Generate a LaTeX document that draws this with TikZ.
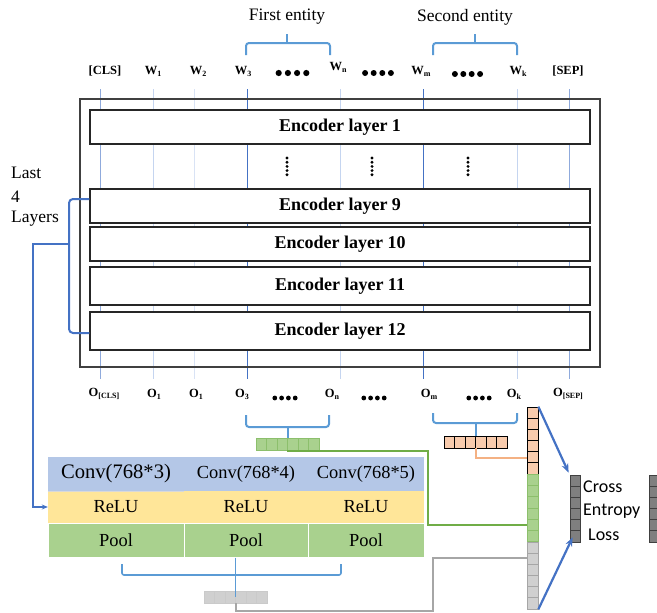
\documentclass[tikz,border=0pt]{standalone}
\usepackage{fontspec}
\setmainfont{Liberation Serif}
\newfontfamily\calib{Carlito}
\usetikzlibrary{calc,arrows.meta}
\definecolor{bracebl}{HTML}{5B9BD5}
\definecolor{darkbl}{HTML}{4472C4}
\definecolor{midbl}{HTML}{8FAADC}
\definecolor{lightbl}{HTML}{C5D5F0}
\definecolor{vlightbl}{HTML}{D9E3F5}
\definecolor{convbl}{HTML}{B4C7E7}
\definecolor{reluy}{HTML}{FFE699}
\definecolor{poolg}{HTML}{A9D18E}
\definecolor{gline}{HTML}{70AD47}
\definecolor{gcell}{HTML}{8CBF6C}
\definecolor{ofill}{HTML}{F8CBAD}
\definecolor{oline}{HTML}{F4B183}
\definecolor{grfill}{HTML}{D0D0D0}
\definecolor{grline}{HTML}{A6A6A6}
\definecolor{dkfill}{HTML}{7F7F7F}
\newcommand\lowsub[1]{\raisebox{-0.35ex}{\fontsize{8}{8}\selectfont #1}}
\newcommand\mydotrow[4]{\foreach \k in {0,...,3}{\fill ({#1+(\k-1.5)*#3},#2) circle (#4pt);}}
\newcommand\myvdots[2]{\foreach \k in {0,...,4}{\fill (#1,{#2+\k*4.2}) circle (1.6pt);}}
\begin{document}
\begin{tikzpicture}[x=1pt,y=-1pt,
  tok/.style={font=\fontsize{12.5}{12.5}\selectfont\bfseries, inner sep=0},
  ent/.style={font=\fontsize{17.5}{18}\selectfont, inner sep=0},
  layerbox/.style={draw=black!85, line width=1.2pt, fill=white, minimum width=500pt, inner sep=0, font=\fontsize{18}{18}\selectfont\bfseries},
  brace/.style={draw=bracebl, line width=2pt, rounded corners=3pt},
  hvec/.style 2 args={draw=#2, fill=#1, line width=0.7pt, minimum width=63pt, minimum height=12pt, inner sep=0,
    path picture={\foreach \k in {1,...,5}{\draw[#2, line width=0.7pt] ($(path picture bounding box.north west)!\k/6!(path picture bounding box.north east)$) -- ($(path picture bounding box.south west)!\k/6!(path picture bounding box.south east)$);}}},
  vvec/.style 2 args={draw=#2, fill=#1, line width=0.7pt, minimum width=11pt, minimum height=67pt, inner sep=0,
    path picture={\foreach \k in {1,...,5}{\draw[#2, line width=0.7pt] ($(path picture bounding box.north west)!\k/6!(path picture bounding box.south west)$) -- ($(path picture bounding box.north east)!\k/6!(path picture bounding box.south east)$);}}},
  cell/.style={inner sep=0, minimum height=#1},
  cnv/.style={font=\fontsize{18.4}{19}\selectfont},
  loss/.style={font=\calib\fontsize{18}{19}\selectfont, inner sep=0, anchor=west}
]
\useasboundingbox (0,0) rectangle (657,613);

% entity labels and braces
\node[ent] (fe) at (287,17) {First entity};
\node[ent] (se) at (465,17) {Second entity};
\draw[brace] (246,55) -- (246,43) -- (330,43) -- (330,55);
\draw[brace] (287,43) -- (287,34);
\draw[brace] (433,55) -- (433,43) -- (517,43) -- (517,55);
\draw[brace] (475,43) -- (475,34);

% token row
\node[tok] (cls) at (105,71) {[CLS]};
\node[tok] (w1) at (153,71) {W\lowsub{1}};
\node[tok] (w2) at (198,71) {W\lowsub{2}};
\node[tok] (w3) at (243,71) {W\lowsub{3}};
\node[tok] (wn) at (338,67) {W\lowsub{n}};
\node[tok] (wm) at (421,71) {W\lowsub{m}};
\node[tok] (wk) at (518,71) {W\lowsub{k}};
\node[tok] (sep) at (568,71) {[SEP]};
\mydotrow{292.5}{73}{9.2}{3.1}
\mydotrow{378}{73}{8.6}{3}
\mydotrow{467.5}{74}{8.4}{3}

% vertical token lines
\foreach \xx/\cc in {100/midbl,153/lightbl,194/vlightbl,247/darkbl,340/lightbl,423/darkbl,517/lightbl,569/midbl}
  \draw[\cc, line width=1pt] (\xx,89) -- (\xx,379);

% encoder
\node[draw=black!75, line width=1.4pt, minimum width=520pt, minimum height=268pt, inner sep=0] (enc) at (340,233) {};
\node[layerbox, minimum height=34pt] (l1) at (340,127) {Encoder layer 1};
\node[layerbox, minimum height=34pt] (l9) at (340,206) {Encoder layer 9};
\node[layerbox, minimum height=34pt] (l10) at (340,244) {Encoder layer 10};
\node[layerbox, minimum height=38pt] (l11) at (340,286) {Encoder layer 11};
\node[layerbox, minimum height=38pt] (l12) at (340,331) {Encoder layer 12};
\myvdots{287}{158}
\myvdots{372}{158}
\myvdots{468}{158}

% last 4 layers
\node[ent, anchor=west] (last) at (11,173) {Last};
\node[ent, anchor=west] (four) at (11,197) {4};
\node[ent, anchor=west] (lay) at (11,219) {Layers};
\draw[draw=darkbl, line width=2pt, rounded corners=4pt] (l9.west |- 0,199) -- (69,199) -- (69,333) -- (l12.west |- 0,333);
\coordinate (ltip) at (69,244);
\coordinate (lbend) at (33,244);

% output row
\node[tok] (ocls) at (104,394) {O\lowsub{[CLS]}};
\node[tok] (o1) at (154,394) {O\lowsub{1}};
\node[tok] (o1b) at (196,394) {O\lowsub{1}};
\node[tok] (o3) at (242,394) {O\lowsub{3}};
\node[tok] (on) at (332,394) {O\lowsub{n}};
\node[tok] (om) at (429,394) {O\lowsub{m}};
\node[tok] (ok) at (514,394) {O\lowsub{k}};
\node[tok] (osep) at (568,394) {O\lowsub{[SEP]}};
\mydotrow{285}{398}{6.8}{2.4}
\mydotrow{374}{398}{6.8}{2.4}
\mydotrow{479}{398}{6.8}{2.4}

% entity vectors
\node[hvec={poolg}{gcell}] (gvec) at (287.5,444) {};
\node[hvec={ofill}{black}] (ovec) at (475.5,442) {};
\draw[brace] (246,415) -- (246,427) -- (329,427) -- (329,415);
\draw[brace] (gvec.north |- 0,427) -- (gvec.north);
\draw[brace] (433,413) -- (433,423) -- (517,423) -- (517,413);
\draw[brace] (ovec.north |- 0,423) -- (ovec.north);

% concatenated column
\node[vvec={ofill}{black}] (colO) at (532.5,440.5) {};
\node[vvec={poolg}{gcell}] (colG) at (532.5,508) {};
\node[vvec={grfill}{grline}] (colGr) at (532.5,575.5) {};

% loss
\node[vvec={dkfill}{black!75}, minimum width=10pt] (lossA) at (575,508.5) {};
\node[vvec={dkfill}{black!75}, minimum width=12pt] (lossB) at (655,508.5) {};
\node[loss] (cross) at (583,487) {Cross};
\node[loss] (entr) at (583,511) {Entropy};
\node[loss] (lossT) at (588,535) {Loss};

% CNN block
\node[cell=34pt, fill=convbl, minimum width=136pt, cnv, font=\fontsize{20.6}{21}\selectfont] (conv1) at (116,474) {Conv(768*3)};
\node[cell=34pt, fill=convbl, minimum width=124pt, cnv] (conv2) at (246,474) {Conv(768*4)};
\node[cell=34pt, fill=convbl, minimum width=116pt, cnv] (conv3) at (366,474) {Conv(768*5)};
\node[cell=32pt, fill=reluy, minimum width=136pt, cnv] (relu1) at (116,507) {ReLU};
\node[cell=32pt, fill=reluy, minimum width=124pt, cnv] (relu2) at (246,507) {ReLU};
\node[cell=32pt, fill=reluy, minimum width=116pt, cnv] (relu3) at (366,507) {ReLU};
\node[cell=34pt, fill=poolg, draw=white, line width=1pt, minimum width=136pt, cnv] (pool1) at (116,540) {Pool};
\node[cell=34pt, fill=poolg, draw=white, line width=1pt, minimum width=124pt, cnv] (pool2) at (246,540) {Pool};
\node[cell=34pt, fill=poolg, draw=white, line width=1pt, minimum width=116pt, cnv] (pool3) at (366,540) {Pool};
\draw[black!15, line width=0.6pt] (conv1.south west) -- (conv1.south east);

% arrow from last four layers into CNN
\draw[darkbl, line width=2pt, -{Stealth[length=6pt,width=5pt]}] (ltip) -- (lbend) |- (relu1.west);

% pooled vector
\node[hvec={grfill}{grline!60}] (gvvec) at (235.5,597) {};
\draw[brace, line width=1.6pt, rounded corners=2pt] (122,564) -- (122,575) -- (341,575) -- (341,564);
\draw[bracebl, line width=1.6pt] (gvvec.north |- pool2.south) -- (gvvec.center);

% connectors into the column
\coordinate (gturn) at (428,451);
\coordinate (gy) at (0,525);
\draw[gline, line width=2pt] (gvec.south) |- (gturn) |- (colG.west |- gy);
\coordinate (oy) at (0,458);
\draw[oline, line width=2pt] (ovec.south) |- (colO.west |- oy);
\coordinate (grb) at (433,611);
\coordinate (gry) at (0,558);
\draw[grline, line width=2pt] (gvvec.south) |- (grb) |- (colGr.west |- gry);

% arrows to loss
\draw[darkbl, line width=2.2pt, -{Stealth[length=9pt,width=7pt]}] (colO.north east) -- ($(lossA.north west)+(-1,-2)$);
\draw[darkbl, line width=2.2pt, -{Stealth[length=9pt,width=7pt]}] (colGr.south east) -- ($(lossA.south west)+(3,-5)$);
\end{tikzpicture}
\end{document}
